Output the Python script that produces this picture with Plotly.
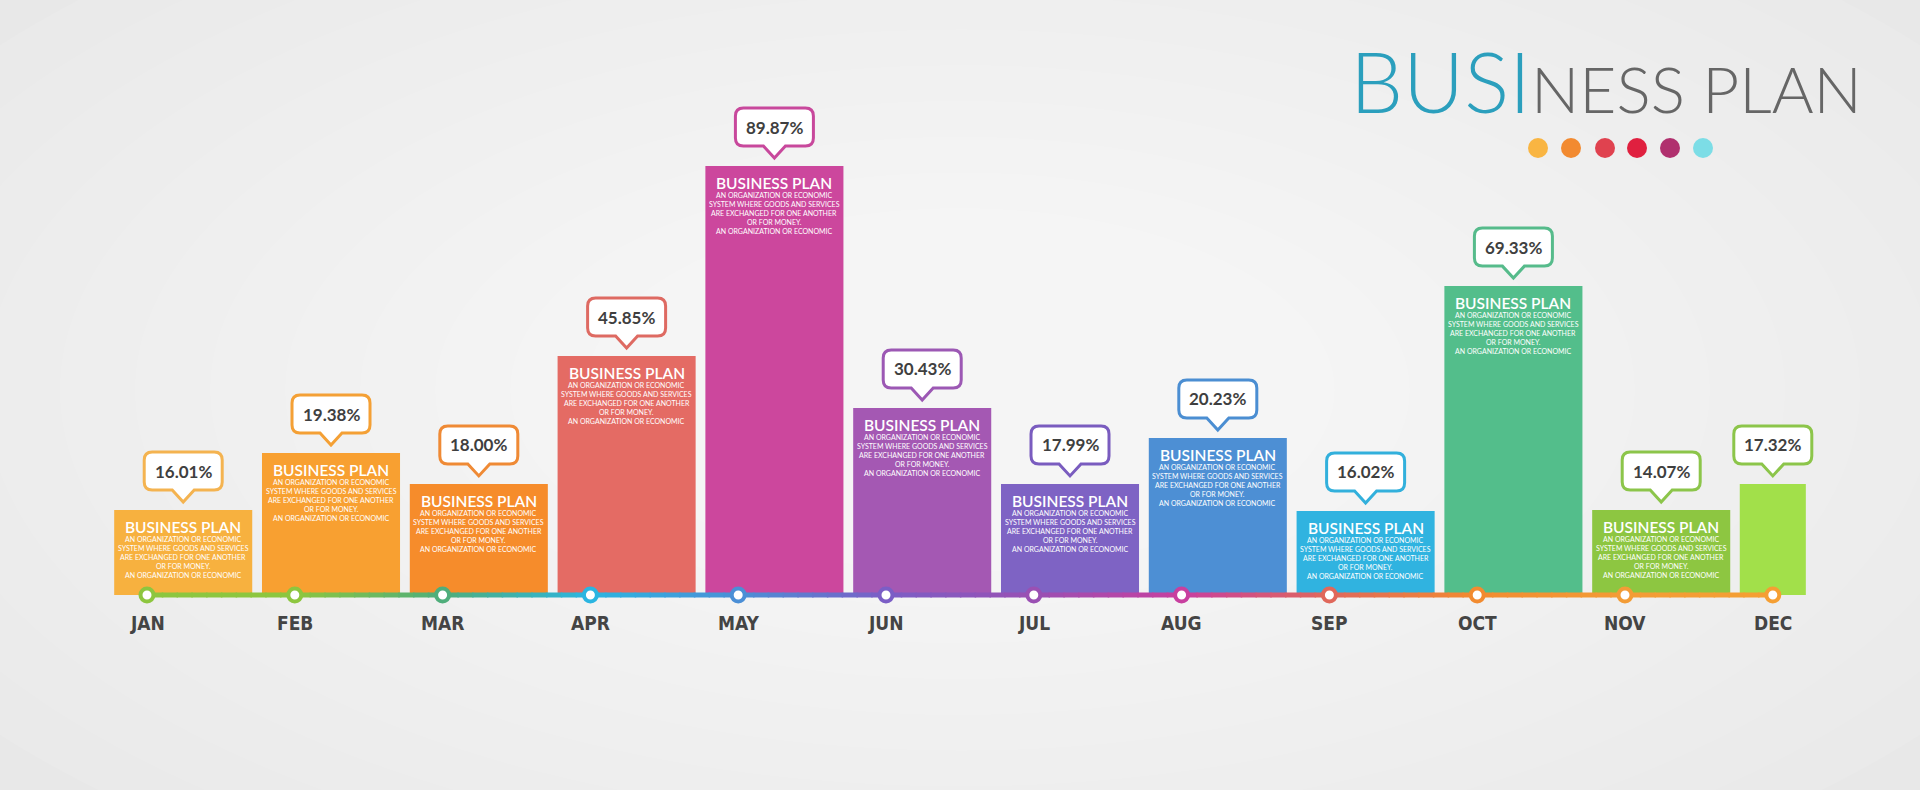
import plotly.graph_objects as go

# ---------------- data ----------------
months = ['JAN', 'FEB', 'MAR', 'APR', 'MAY', 'JUN', 'JUL', 'AUG', 'SEP', 'OCT', 'NOV', 'DEC']
pct_values = [16.01, 19.38, 18.00, 45.85, 89.87, 30.43, 17.99, 20.23, 16.02, 69.33, 14.07, 17.32]
# bar heights as drawn in the picture (relative level, MAY = 100)
bar_level = [19.8, 33.1, 25.9, 55.7, 100.0, 43.6, 25.9, 36.6, 19.6, 72.0, 19.8, 25.9]
has_text = [True] * 11 + [False]
heading = 'BUSINESS PLAN'
body_lines = ['AN ORGANIZATION OR ECONOMIC',
              'SYSTEM WHERE GOODS AND SERVICES',
              'ARE EXCHANGED FOR ONE ANOTHER',
              'OR FOR MONEY.',
              'AN ORGANIZATION OR ECONOMIC']
title_a = 'BUSI'
title_b = 'NESS PLAN'

bar_colors = ['#f7b13f', '#f8a031', '#f68c2b', '#e46b64', '#cc479d', '#a458b3',
              '#7e63c4', '#4d8fd4', '#30b3e0', '#53be8b', '#8dc641', '#a2e04a']
callout_colors = ['#f4b350', '#f4a035', '#ef8a35', '#de6a62', '#c8489c', '#9c58b4',
                  '#7a5cbf', '#4b8ed2', '#32b0dc', '#56bb8b', '#8cc54a', '#8cc54a']
ring_colors = ['#8dc63f', '#8dc63f', '#4fae7b', '#2bb5e1', '#4b8fd6', '#7b5ec6',
               '#9a50b3', '#c83f9f', '#e0685b', '#f28b30', '#f39c36', '#f59f33']
dot_colors = ['#f9b542', '#f28a30', '#e0424f', '#e0203f', '#b0306e', '#7cdde6']

# ---------------- geometry helpers ----------------
W, H = 1920, 790
X0_PX, XU = 147.0, 147.8      # pixel of x=0, pixels per month
Y0_PX, YU = 595.0, 4.29       # pixel of level 0, pixels per level unit


def px2x(px):
    return (px - X0_PX) / XU


def py2y(py):
    return (Y0_PX - py) / YU


def x2px(x):
    return X0_PX + x * XU


def y2py(y):
    return Y0_PX - y * YU


n = len(months)
bar_x = [i + (0.245 if has_text[i] else 0.0) for i in range(n)]
bar_w = [0.934 if has_text[i] else 0.447 for i in range(n)]

fig = go.Figure()

# soft background glow
glow = 14
for k in range(glow):
    f = 1 - k / glow
    ew, eh = 300 + 2100 * f, 150 + 1000 * f
    fig.add_shape(type='circle', xref='paper', yref='paper', layer='below',
                  x0=(960 - ew / 2) / W, x1=(960 + ew / 2) / W,
                  y0=1 - (390 + eh / 2) / H, y1=1 - (390 - eh / 2) / H,
                  fillcolor='white', opacity=0.09, line_width=0)

# bars
fig.add_trace(go.Bar(x=bar_x, y=bar_level, width=bar_w, marker_color=bar_colors,
                     marker_line_width=0, hoverinfo='skip', showlegend=False))


def hex2rgb(h):
    h = h.lstrip('#')
    return tuple(int(h[i:i + 2], 16) for i in (0, 2, 4))


# gradient timeline
steps = 10
for i in range(n - 1):
    c0, c1 = hex2rgb(ring_colors[i]), hex2rgb(ring_colors[i + 1])
    for s in range(steps):
        t = (s + 0.5) / steps
        col = 'rgb(%d,%d,%d)' % tuple(round(a + (b - a) * t) for a, b in zip(c0, c1))
        xa = i + s / steps
        xb = i + (s + 1) / steps + 0.01
        fig.add_trace(go.Scatter(x=[xa, xb], y=[0, 0], mode='lines',
                                 line=dict(color=col, width=5),
                                 hoverinfo='skip', showlegend=False))

# timeline markers
fig.add_trace(go.Scatter(x=list(range(n)), y=[0] * n, mode='markers',
                         marker=dict(size=13, color='white',
                                     line=dict(color=ring_colors, width=4)),
                         hoverinfo='skip', showlegend=False))

# palette dots under title
dot_px = [1538, 1571, 1605, 1637, 1670, 1703]
fig.add_trace(go.Scatter(x=[px2x(p) for p in dot_px], y=[py2y(148)] * len(dot_px),
                         mode='markers', marker=dict(size=20, color=dot_colors),
                         hoverinfo='skip', showlegend=False))

# callouts
bw, bh, r, pw, ph, gap = 78, 38, 8, 11, 12, 8
for i in range(n):
    cx = x2px(bar_x[i])
    top = y2py(bar_level[i])
    tip = top - gap
    yb = tip - ph
    yt = yb - bh
    xl, xr = cx - bw / 2, cx + bw / 2
    pts = [('M', xl + r, yt), ('L', xr - r, yt), ('Q', xr, yt, xr, yt + r),
           ('L', xr, yb - r), ('Q', xr, yb, xr - r, yb), ('L', cx + pw, yb),
           ('L', cx, tip), ('L', cx - pw, yb), ('L', xl + r, yb),
           ('Q', xl, yb, xl, yb - r), ('L', xl, yt + r), ('Q', xl, yt, xl + r, yt)]
    path = ''
    for p in pts:
        cmd = p[0]
        coords = p[1:]
        seg = []
        for j in range(0, len(coords), 2):
            seg.append('%.5f,%.5f' % (px2x(coords[j]), py2y(coords[j + 1])))
        path += cmd + ' '.join(seg) + ' '
    path += 'Z'
    fig.add_shape(type='path', path=path, xref='x', yref='y', fillcolor='white',
                  line=dict(color=callout_colors[i], width=3), layer='above')
    fig.add_annotation(x=bar_x[i], y=py2y((yt + yb) / 2), text='%.2f%%' % pct_values[i],
                       showarrow=False, xanchor='center', yanchor='middle',
                       font=dict(family='Lato', size=17, color='#3f3f3f', weight=700))

    if has_text[i]:
        fig.add_annotation(x=bar_x[i], y=py2y(top + 17), text=heading, showarrow=False,
                           xanchor='center', yanchor='middle',
                           font=dict(family='Lato', size=15.5, color='white', weight=600))
        for k, line in enumerate(body_lines):
            fig.add_annotation(x=bar_x[i], y=py2y(top + 29 + 9 * k), text=line,
                               showarrow=False, xanchor='center', yanchor='middle',
                               font=dict(family='Lato', size=7, color='white'))

    fig.add_annotation(x=i, y=py2y(623), text=months[i], showarrow=False,
                       xanchor='center', yanchor='middle',
                       font=dict(family='DejaVu Sans Condensed, Liberation Sans Narrow, sans-serif',
                                 size=19, color='#444444', weight=700))

# title
fig.add_annotation(xref='paper', yref='paper', x=1864 / W, y=1 - 133 / H,
                   xanchor='right', yanchor='bottom', showarrow=False,
                   text=('<span style="color:#2b9fbd;font-size:84px">%s</span>'
                         '<span style="color:#666666;font-size:64px">%s</span>') % (title_a, title_b),
                   font=dict(family='Lato', size=64, color='#666666', weight=300))

fig.update_layout(
    width=W, height=H, autosize=False,
    margin=dict(l=0, r=0, t=0, b=0),
    paper_bgcolor='#e8e8e8', plot_bgcolor='rgba(0,0,0,0)',
    barmode='overlay', hovermode=False, showlegend=False,
    xaxis=dict(range=[px2x(0), px2x(W)], visible=False, fixedrange=True),
    yaxis=dict(range=[py2y(H), py2y(0)], visible=False, fixedrange=True),
)

fig.write_html('out.html', config={'displayModeBar': False},
               post_script="document.body.style.margin='0';document.body.style.overflow='hidden';")
